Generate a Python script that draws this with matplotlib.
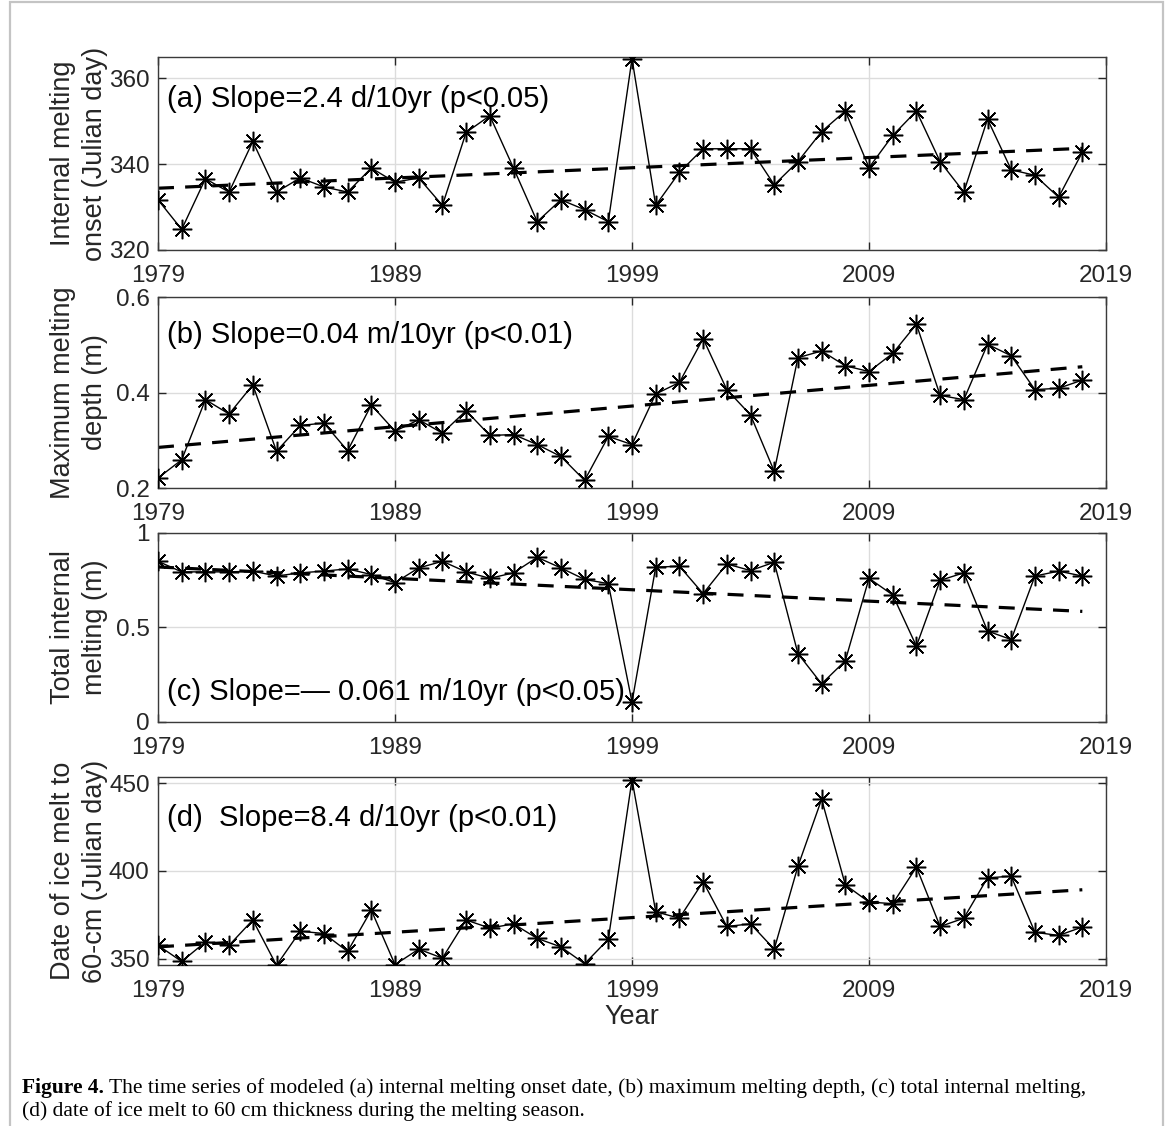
import numpy as np
import matplotlib
matplotlib.use('Agg')
import matplotlib.pyplot as plt
from matplotlib.patches import Rectangle
from matplotlib.ticker import FormatStrFormatter

plt.rcParams['font.family'] = ['Liberation Sans', 'DejaVu Sans']

years = np.arange(1979, 2019)

# (a) internal melting onset (Julian day)
onset = [331.7, 324.8, 336.6, 333.5, 345.3, 333.5, 336.8, 334.7, 333.5, 339.1,
         335.8, 336.8, 330.4, 347.4, 351.3, 339.1, 326.6, 331.7, 329.4, 326.6,
         364.6, 330.4, 338.1, 343.6, 343.6, 343.6, 335.2, 340.6, 347.6, 352.4,
         339.2, 346.7, 352.4, 340.6, 333.5, 350.5, 338.7, 337.4, 332.3, 342.8]
# (b) maximum melting depth (m)
depth = [0.221, 0.259, 0.385, 0.355, 0.416, 0.277, 0.331, 0.336, 0.278, 0.374,
         0.319, 0.343, 0.315, 0.362, 0.310, 0.312, 0.291, 0.266, 0.216, 0.308,
         0.291, 0.397, 0.421, 0.513, 0.406, 0.353, 0.235, 0.473, 0.487, 0.456,
         0.444, 0.482, 0.543, 0.394, 0.385, 0.501, 0.477, 0.406, 0.409, 0.426]
# (c) total internal melting (m)
total = [0.850, 0.794, 0.794, 0.794, 0.798, 0.772, 0.789, 0.798, 0.810, 0.780,
         0.737, 0.815, 0.850, 0.794, 0.760, 0.789, 0.871, 0.815, 0.754, 0.732,
         0.105, 0.819, 0.824, 0.679, 0.836, 0.801, 0.845, 0.362, 0.202, 0.324,
         0.760, 0.672, 0.401, 0.749, 0.789, 0.481, 0.436, 0.772, 0.798, 0.772]
# (d) date of ice melt to 60 cm (Julian day)
melt60 = [357.7, 348.5, 359.6, 357.7, 372.1, 346.3, 365.7, 364.4, 354.2, 377.7,
          346.7, 355.5, 350.4, 372.1, 367.5, 369.9, 361.6, 356.8, 347.2, 361.1,
          452.0, 376.8, 373.1, 393.9, 368.4, 369.9, 355.5, 402.6, 440.8, 392.1,
          382.3, 381.4, 402.2, 368.4, 373.1, 396.1, 397.0, 365.1, 363.3, 368.1]

# linear trend end points (1979, 2018)
trend_years = [1979, 2018]
trend_a = [334.4, 343.7]
trend_b = [0.285, 0.454]
trend_c = [0.820, 0.585]
trend_d = [356.8, 389.3]

xticks = [1979, 1989, 1999, 2009, 2019]

panels = [
    dict(y=onset, trend=trend_a, ylim=(320, 365), yticks=[320, 340, 360],
         fmt='%g', ylabel='Internal melting\nonset (Julian day)',
         text='(a) Slope=2.4 d/10yr (p<0.05)', ty=0.78,
         pos=(0.7780, 0.1714)),
    dict(y=depth, trend=trend_b, ylim=(0.2, 0.6), yticks=[0.2, 0.4, 0.6],
         fmt='%.1f', ylabel='Maximum melting\ndepth (m)',
         text='(b) Slope=0.04 m/10yr (p<0.01)', ty=0.80,
         pos=(0.5666, 0.1696)),
    dict(y=total, trend=trend_c, ylim=(0, 1), yticks=[0, 0.5, 1],
         fmt='%g', ylabel='Total internal\nmelting (m)',
         text='(c) Slope=\u2014 0.061 m/10yr (p<0.05)', ty=0.16,
         pos=(0.3588, 0.1679)),
    dict(y=melt60, trend=trend_d, ylim=(346.5, 453.5), yticks=[350, 400, 450],
         fmt='%g', ylabel='Date of ice melt to\n60-cm (Julian day)',
         text='(d)  Slope=8.4 d/10yr (p<0.01)', ty=0.78,
         pos=(0.1430, 0.1670)),
]

fig = plt.figure(figsize=(11.73, 11.26), dpi=100)
fig.patch.set_facecolor('white')

left, width = 0.1347, 0.8082
for p in panels:
    ax = fig.add_axes([left, p['pos'][0], width, p['pos'][1]])
    ax.plot(trend_years, p['trend'], color='black', lw=2.3, ls=(0, (5, 3.5)),
            zorder=2)
    ax.plot(years, p['y'], color='black', lw=1.0, marker=(8, 2, 0),
            markersize=14, markeredgewidth=1.1, zorder=3)
    ax.set_xlim(1979, 2019)
    ax.set_ylim(*p['ylim'])
    ax.set_xticks(xticks)
    ax.set_yticks(p['yticks'])
    ax.yaxis.set_major_formatter(FormatStrFormatter(p['fmt']))
    ax.grid(True, color='#dcdcdc', lw=1.0)
    ax.set_axisbelow(True)
    ax.tick_params(direction='in', length=6, width=1, colors='#262626',
                   labelsize=17.5, top=True, right=True, pad=6)
    ax.tick_params(axis='x', pad=11)
    for s in ax.spines.values():
        s.set_color('#3a3a3a')
        s.set_linewidth(1.0)
    ax.set_ylabel(p['ylabel'], fontsize=19.5, color='#262626', linespacing=1.3)
    ax.yaxis.set_label_coords(-0.053, 0.5)
    ax.text(0.01, p['ty'], p['text'], transform=ax.transAxes, fontsize=21,
            va='center', ha='left', color='black')

ax.set_xlabel('Year', fontsize=19.5, color='#262626', labelpad=1)

# frame and caption
fig.patches.append(Rectangle((10 / 1173, -0.01), 1153 / 1173, 1.01 - 2 / 1126,
                             transform=fig.transFigure, fill=False,
                             edgecolor='#c4c4c4', lw=1.6))
cap_font = ['Liberation Serif', 'DejaVu Serif']
cap_size = 15.5
t1 = fig.text(22 / 1173, 1 - 1088 / 1126, 'Figure 4.', fontsize=cap_size,
              fontweight='bold', family=cap_font, va='center', ha='left')
fig.canvas.draw()
bb = t1.get_window_extent(renderer=fig.canvas.get_renderer())
x2 = (bb.x1 + 5) / fig.bbox.width
fig.text(x2, 1 - 1088 / 1126,
         'The time series of modeled (a) internal melting onset date, '
         '(b) maximum melting depth, (c) total internal melting,',
         fontsize=cap_size, family=cap_font, va='center', ha='left')
fig.text(22 / 1173, 1 - 1111 / 1126,
         '(d) date of ice melt to 60 cm thickness during the melting season.',
         fontsize=cap_size, family=cap_font, va='center', ha='left')

fig.savefig('out.png', dpi=100, facecolor='white')
